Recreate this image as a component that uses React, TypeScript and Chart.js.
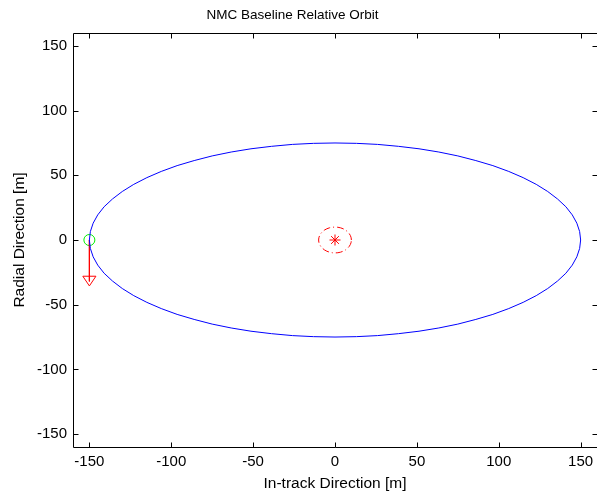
import React, { useEffect, useRef } from "react";
import { Chart, registerables } from "chart.js";

Chart.register(...registerables);

const TITLE = "NMC Baseline Relative Orbit";
const X_LABEL = "In-track Direction [m]";
const Y_LABEL = "Radial Direction [m]";

const xTicks = [-150, -100, -50, 0, 50, 100, 150];
const yTicks = [-150, -100, -50, 0, 50, 100, 150];

// Relative orbit (in-track, radial)
const orbitX = [
  150, 149.4, 147.7, 144.9, 141.0, 135.9, 129.9, 122.9, 114.9, 106.1, 96.4, 86.0, 75.0, 63.4, 51.3, 38.8, 26.0, 13.1, 0,
  -13.1, -26.0, -38.8, -51.3, -63.4, -75.0, -86.0, -96.4, -106.1, -114.9, -122.9, -129.9, -135.9, -141.0, -144.9, -147.7, -149.4, -150,
  -149.4, -147.7, -144.9, -141.0, -135.9, -129.9, -122.9, -114.9, -106.1, -96.4, -86.0, -75.0, -63.4, -51.3, -38.8, -26.0, -13.1, 0,
  13.1, 26.0, 38.8, 51.3, 63.4, 75.0, 86.0, 96.4, 106.1, 114.9, 122.9, 129.9, 135.9, 141.0, 144.9, 147.7, 149.4, 150,
];
const orbitY = [
  0, 6.5, 13.0, 19.4, 25.7, 31.7, 37.5, 43.0, 48.2, 53.0, 57.5, 61.4, 65.0, 68.0, 70.5, 72.4, 73.9, 74.7, 75,
  74.7, 73.9, 72.4, 70.5, 68.0, 65.0, 61.4, 57.5, 53.0, 48.2, 43.0, 37.5, 31.7, 25.7, 19.4, 13.0, 6.5, 0,
  -6.5, -13.0, -19.4, -25.7, -31.7, -37.5, -43.0, -48.2, -53.0, -57.5, -61.4, -65.0, -68.0, -70.5, -72.4, -73.9, -74.7, -75,
  -74.7, -73.9, -72.4, -70.5, -68.0, -65.0, -61.4, -57.5, -53.0, -48.2, -43.0, -37.5, -31.7, -25.7, -19.4, -13.0, -6.5, 0,
];

// Keep-out circle around the target
const zoneX = [
  10, 9.85, 9.4, 8.66, 7.66, 6.43, 5.0, 3.42, 1.74, 0, -1.74, -3.42, -5.0, -6.43, -7.66, -8.66, -9.4, -9.85, -10,
  -9.85, -9.4, -8.66, -7.66, -6.43, -5.0, -3.42, -1.74, 0, 1.74, 3.42, 5.0, 6.43, 7.66, 8.66, 9.4, 9.85, 10,
];
const zoneY = [
  0, 1.74, 3.42, 5.0, 6.43, 7.66, 8.66, 9.4, 9.85, 10, 9.85, 9.4, 8.66, 7.66, 6.43, 5.0, 3.42, 1.74, 0,
  -1.74, -3.42, -5.0, -6.43, -7.66, -8.66, -9.4, -9.85, -10, -9.85, -9.4, -8.66, -7.66, -6.43, -5.0, -3.42, -1.74, 0,
];

const startPoint = { x: -150, y: 0 };
const targetPoint = { x: 0, y: 0 };
const arrowShaftX = [-150, -150];
const arrowShaftY = [0, -32];
const arrowHeadX = [-154, -146, -150, -154];
const arrowHeadY = [-28, -28, -35.5, -28];

const zip = (xs: number[], ys: number[]) => xs.map((x, i) => ({ x, y: ys[i] }));

const FONT = "'Liberation Sans', Arial, Helvetica, sans-serif";

const boxPlugin = {
  id: "matlabBox",
  afterDatasetsDraw(chart: any) {
    const { ctx, chartArea } = chart;
    const { left, right, top, bottom } = chartArea;
    const xs = chart.scales.x;
    const ys = chart.scales.y;
    ctx.save();
    ctx.strokeStyle = "#000";
    ctx.lineWidth = 1;
    ctx.beginPath();
    const L = Math.round(left) + 0.5;
    const R = Math.round(right) + 0.5;
    const T = Math.round(top) + 0.5;
    const B = Math.round(bottom) + 0.5;
    ctx.rect(L, T, R - L, B - T);
    const len = 5;
    xTicks.forEach((v) => {
      const px = Math.round(xs.getPixelForValue(v)) + 0.5;
      ctx.moveTo(px, B);
      ctx.lineTo(px, B - len);
      ctx.moveTo(px, T);
      ctx.lineTo(px, T + len);
    });
    yTicks.forEach((v) => {
      const py = Math.round(ys.getPixelForValue(v)) + 0.5;
      ctx.moveTo(L, py);
      ctx.lineTo(L + len, py);
      ctx.moveTo(R, py);
      ctx.lineTo(R - len, py);
    });
    ctx.stroke();
    // title
    ctx.fillStyle = "#000";
    ctx.font = `13.5px ${FONT}`;
    ctx.textAlign = "center";
    ctx.textBaseline = "middle";
    ctx.fillText(TITLE, 292.5, 15);
    ctx.restore();
  },
};

export default function App() {
  const ref = useRef<HTMLCanvasElement | null>(null);

  useEffect(() => {
    if (!ref.current) return;
    Chart.defaults.font.family = FONT;
    Chart.defaults.color = "#000";
    const chart = new Chart(ref.current, {
      type: "scatter",
      data: {
        datasets: [
          {
            label: "orbit",
            data: zip(orbitX, orbitY),
            showLine: true,
            borderColor: "#0000ff",
            borderWidth: 1,
            pointRadius: 0,
            fill: false,
          },
          {
            label: "zone",
            data: zip(zoneX, zoneY),
            showLine: true,
            borderColor: "#ff0000",
            borderWidth: 1,
            borderDash: [7, 3, 1, 3],
            pointRadius: 0,
            fill: false,
          },
          {
            label: "shaft",
            data: zip(arrowShaftX, arrowShaftY),
            showLine: true,
            borderColor: "#ff0000",
            borderWidth: 1,
            pointRadius: 0,
          },
          {
            label: "head",
            data: zip(arrowHeadX, arrowHeadY),
            showLine: true,
            borderColor: "#ff0000",
            borderWidth: 1,
            pointRadius: 0,
          },
          {
            label: "start",
            data: [startPoint],
            showLine: false,
            pointStyle: "circle",
            pointRadius: 5.5,
            pointBorderColor: "#00ee00",
            pointBackgroundColor: "rgba(0,0,0,0)",
            pointBorderWidth: 1,
          },
          {
            label: "target",
            data: [targetPoint],
            showLine: false,
            pointStyle: "star",
            pointRadius: 5.5,
            pointBorderColor: "#ff0000",
            pointBackgroundColor: "#ff0000",
            pointBorderWidth: 1,
          },
        ],
      },
      options: {
        responsive: false,
        animation: false,
        devicePixelRatio: 1,
        layout: { autoPadding: false, padding: { top: 33, left: 0, right: 0, bottom: 0 } },
        plugins: {
          legend: { display: false },
          tooltip: { enabled: false },
          title: { display: false },
        },
        scales: {
          x: {
            type: "linear",
            min: -160,
            max: 160,
            grid: { display: false, drawTicks: false },
            border: { display: false },
            ticks: { padding: 6, color: "#000", font: { size: 15 } },
            title: {
              display: true,
              text: X_LABEL,
              color: "#000",
              font: { size: 15.5 },
              padding: { top: 0, bottom: 1.3 },
            },
            afterBuildTicks: (s: any) => {
              s.ticks = xTicks.map((v) => ({ value: v }));
            },
            afterFit: (s: any) => {
              s.height = 47;
              s.paddingLeft = 0;
              s.paddingRight = 0;
            },
          },
          y: {
            type: "linear",
            min: -160,
            max: 160,
            grid: { display: false, drawTicks: false },
            border: { display: false },
            ticks: { padding: 6, color: "#000", font: { size: 15 } },
            title: {
              display: true,
              text: Y_LABEL,
              color: "#000",
              font: { size: 15.5 },
              padding: { top: 10.9, bottom: 0 },
            },
            afterBuildTicks: (s: any) => {
              s.ticks = yTicks.map((v) => ({ value: v }));
            },
            afterFit: (s: any) => {
              s.width = 73;
              s.paddingTop = 0;
              s.paddingBottom = 0;
            },
          },
        },
      },
      plugins: [boxPlugin],
    } as any);
    return () => chart.destroy();
  }, []);

  return (
    <div style={{ position: "fixed", left: 0, top: 0, width: 597, height: 494, background: "#fff" }}>
      <canvas ref={ref} width={597} height={494} style={{ display: "block" }} />
    </div>
  );
}
